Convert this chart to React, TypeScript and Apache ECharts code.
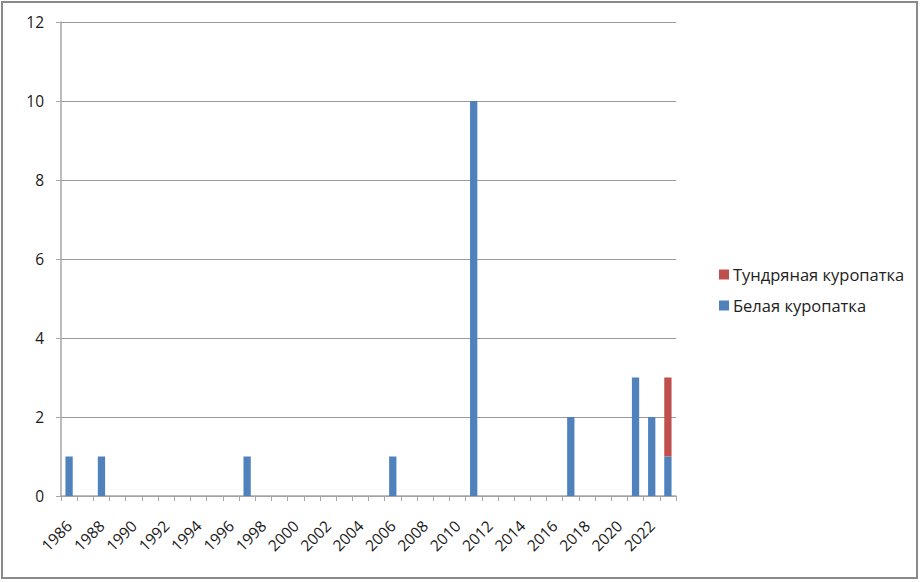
import React, { useEffect, useRef } from "react";
import * as echarts from "echarts";

const years: string[] = [];
for (let y = 1986; y <= 2023; y++) years.push(String(y));

// Белая куропатка (blue) values per year
const whiteVals: Record<string, number> = {
  "1986": 1, "1988": 1, "1997": 1, "2006": 1, "2011": 10,
  "2017": 2, "2021": 3, "2022": 2, "2023": 1,
};
// Тундряная куропатка (red)
const tundraVals: Record<string, number> = { "2023": 2 };

const whiteSeries = years.map((y) => whiteVals[y] ?? 0);
const tundraSeries = years.map((y) => tundraVals[y] ?? 0);

export default function App() {
  const ref = useRef<HTMLDivElement>(null);
  useEffect(() => {
    if (!ref.current) return;
    const chart = echarts.init(ref.current, undefined, { renderer: "svg" });
    const font = "Open Sans";
    chart.setOption({
      animation: false,
      backgroundColor: "#ffffff",
      textStyle: { fontFamily: font },
      graphic: [
        {
          type: "rect",
          shape: { x: 2, y: 2, width: 915, height: 576 },
          style: { fill: "none", stroke: "#8a8a8a", lineWidth: 2 },
          silent: true,
        },
      ],
      grid: { left: 61, right: 244, top: 22, bottom: 86, containLabel: false },
      legend: {
        orient: "vertical",
        left: 714,
        top: 261,
        itemWidth: 10,
        itemHeight: 10,
        itemGap: 14,
        itemStyle: { borderWidth: 0 },
        icon: "rect",
        textStyle: { fontFamily: font, fontSize: 16.5, color: "#222", padding: [0, 0, 0, -1] },
        data: ["Тундряная куропатка", "Белая куропатка"],
      },
      xAxis: {
        type: "category",
        data: years,
        boundaryGap: true,
        axisLine: { lineStyle: { color: "#a6a6a6", width: 1.5 } },
        axisTick: { show: true, interval: 0, length: 5, lineStyle: { color: "#a6a6a6" } },
        axisLabel: {
          interval: 1,
          rotate: 45,
          fontFamily: font,
          fontSize: 15.5,
          color: "#1a1a1a",
          margin: 27,
        },
      },
      yAxis: {
        type: "value",
        min: 0,
        max: 12,
        interval: 2,
        axisLine: { show: true, lineStyle: { color: "#a6a6a6", width: 1.5 } },
        axisTick: { show: true, length: 5, lineStyle: { color: "#a6a6a6" } },
        splitLine: { lineStyle: { color: "#9a9a9a", width: 1 } },
        axisLabel: { fontFamily: font, fontSize: 15.5, color: "#1a1a1a", margin: 17 },
      },
      series: [
        {
          name: "Белая куропатка",
          type: "bar",
          stack: "a",
          data: whiteSeries,
          barWidth: "45%",
          itemStyle: { color: "#4F81BD" },
        },
        {
          name: "Тундряная куропатка",
          type: "bar",
          stack: "a",
          data: tundraSeries,
          barWidth: "45%",
          itemStyle: { color: "#C0504D" },
        },
      ],
    });
    return () => chart.dispose();
  }, []);
  return (
    <div
      ref={ref}
      style={{ position: "fixed", left: 0, top: 0, width: 920, height: 582 }}
    />
  );
}
